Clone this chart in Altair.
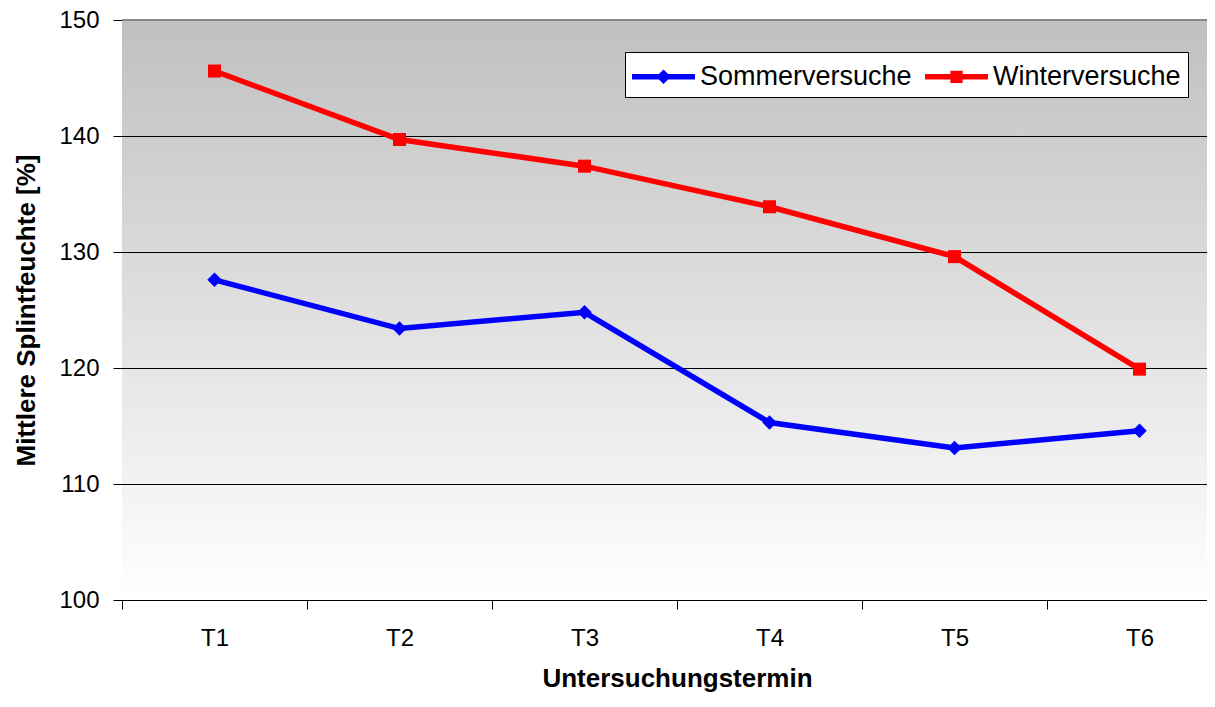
import altair as alt
import pandas as pd

termine = ["T1", "T2", "T3", "T4", "T5", "T6"]
serien = ["Sommerversuche", "Winterversuche"]
sommer = [127.6, 123.4, 124.8, 115.3, 113.1, 114.6]
winter = [145.6, 139.7, 137.4, 133.9, 129.6, 119.9]
farben = ["#0000FF", "#FF0000"]
y_ticks = [100, 110, 120, 130, 140, 150]
y_grid = [110, 120, 130, 140]
y_top = [150]

rows = []
for t, v in zip(termine, sommer):
    rows.append({"Termin": t, "Serie": serien[0], "Wert": v})
for t, v in zip(termine, winter):
    rows.append({"Termin": t, "Serie": serien[1], "Wert": v})
df = pd.DataFrame(rows)

FONT = "Liberation Sans"

# legend symbols: line with marker in the middle (custom SVG paths)
leg_sommer = "M-1.8,-0.16L1.8,-0.16L1.8,0.16L-1.8,0.16Z M0,-0.42L0.42,0L0,0.42L-0.42,0Z"
leg_winter = "M-1.8,-0.16L1.8,-0.16L1.8,0.16L-1.8,0.16Z M-0.35,-0.35L0.35,-0.35L0.35,0.35L-0.35,0.35Z"

color_scale = alt.Scale(domain=serien, range=farben)
y_scale = alt.Scale(domain=[100, 150], nice=False, zero=False)

x_enc = alt.X(
    "Termin:N",
    sort=termine,
    bandPosition=0.5,
    scale=alt.Scale(type="band", paddingInner=0, paddingOuter=0, range=[0, 1110]),
    axis=alt.Axis(
        title="Untersuchungstermin",
        labelAngle=0,
        tickBand="extent",
        tickSize=9,
        tickColor="#000000",
        domainColor="#000000",
        labelPadding=17,
        titlePadding=15,
        grid=False,
    ),
)
y_enc = alt.Y(
    "Wert:Q",
    scale=y_scale,
    axis=alt.Axis(
        title="Mittlere Splintfeuchte [%]",
        values=y_ticks,
        tickSize=9,
        tickColor="#000000",
        domainColor="#000000",
        labelPadding=14,
        titlePadding=19,
        grid=False,
    ),
)

leg_props = dict(
    title=None,
    orient="none",
    legendX=503,
    legendY=32,
    direction="horizontal",
    fillColor="#ffffff",
    strokeColor="#000000",
    padding=7,
    symbolSize=1225,
    symbolOffset=14,
    symbolStrokeWidth=0,
    symbolOpacity=1,
    labelOffset=19,
    labelLimit=500,
    labelFont=FONT,
    labelFontSize=27,
    labelColor="#000000",
    columnPadding=13,
)

base = alt.Chart(df).encode(x=x_enc, y=y_enc)

# legend source layer (drawn first, hidden under the plot background)
legend_layer = base.mark_point(filled=True, opacity=1).encode(
    color=alt.Color("Serie:N", scale=color_scale, legend=alt.Legend(**leg_props)),
    shape=alt.Shape(
        "Serie:N",
        scale=alt.Scale(domain=serien, range=[leg_sommer, leg_winter]),
        legend=alt.Legend(**leg_props),
    ),
)

background = alt.Chart(alt.Data(values=[{}])).mark_rect(
    fill=alt.Gradient(
        gradient="linear",
        stops=[
            alt.GradientStop(color="#c0c0c0", offset=0),
            alt.GradientStop(color="#ffffff", offset=1),
        ],
        x1=0, x2=0, y1=0, y2=1,
    ),
    strokeWidth=0,
).encode(
    x=alt.value(0), x2=alt.value("width"), y=alt.value(0), y2=alt.value("height")
)

grid = alt.Chart(pd.DataFrame({"y": y_grid})).mark_rule(
    color="#000000", strokeWidth=1, yOffset=0.5
).encode(y=alt.Y("y:Q", scale=y_scale))

top_line = alt.Chart(pd.DataFrame({"y": y_top})).mark_rule(
    color="#888888", strokeWidth=2
).encode(y=alt.Y("y:Q", scale=y_scale))

lines = base.mark_line(strokeWidth=5.5).encode(
    color=alt.Color("Serie:N", scale=color_scale, legend=None)
)

pts_s = base.transform_filter(alt.datum.Serie == serien[0]).mark_point(
    shape="diamond", filled=True, size=210, opacity=1
).encode(color=alt.Color("Serie:N", scale=color_scale, legend=None))

pts_w = base.transform_filter(alt.datum.Serie == serien[1]).mark_point(
    shape="square", filled=True, size=169, opacity=1
).encode(color=alt.Color("Serie:N", scale=color_scale, legend=None))

chart = alt.layer(legend_layer, background, grid, top_line, lines, pts_s, pts_w).properties(
    width=1085,
    height=580,
    autosize=alt.AutoSizeParams(type="none"),
    padding={"left": 114, "top": 12, "right": 0, "bottom": 93},
    background="#ffffff",
).configure_view(stroke=None).configure_axis(
    labelFont=FONT,
    labelFontSize=24,
    labelColor="#000000",
    titleFont=FONT,
    titleFontSize=26,
    titleFontWeight="bold",
    titleColor="#000000",
)

chart.save("out.html", embed_options={"renderer": "svg", "actions": False})
